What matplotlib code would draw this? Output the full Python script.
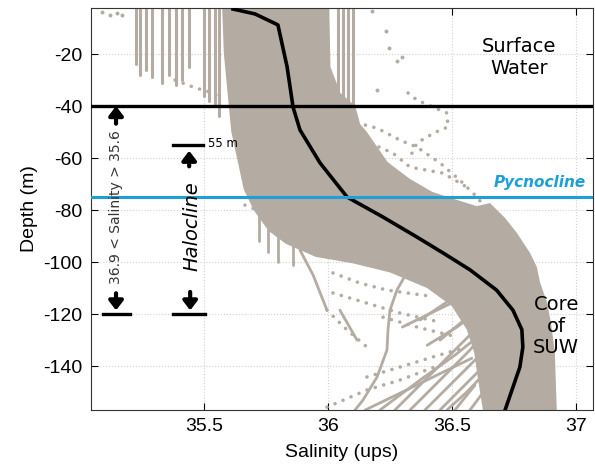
import matplotlib
matplotlib.use("Agg")
import matplotlib.pyplot as plt

plt.rcParams["axes.unicode_minus"] = False

# ---------------- DATA ---------------- #

# dense cloud of profiles: left edge (top -> bottom) and right edge (bottom -> top)
cloud_left_sal = [35.573, 35.580, 35.600, 35.610, 35.633, 35.660, 35.700, 35.760, 35.830,
                  35.950, 36.100, 36.250, 36.400, 36.500, 36.560, 36.590, 36.605, 36.625]
cloud_left_dep = [-2.3, -20, -40, -50, -60, -72, -80, -88, -93,
                  -98, -100.5, -104, -110, -117, -126, -135, -145, -157]
cloud_right_sal = [36.923, 36.919, 36.915, 36.899, 36.883, 36.855, 36.843, 36.815, 36.762,
                   36.714, 36.653, 36.600, 36.500, 36.420, 36.330, 36.240, 36.157, 36.130,
                   36.110, 36.050, 36.010, 36.005]
cloud_right_dep = [-157, -146, -134.6, -123, -115.4, -107.7, -102, -96.5, -88.8,
                   -83, -77.3, -78.5, -75.5, -73, -68, -61.5, -50, -47,
                   -40, -35, -25, -2.3]

# mean profile
mean_sal = [35.617, 35.706, 35.798, 35.835, 35.859, 35.887, 35.968, 36.077, 36.222,
            36.359, 36.464, 36.573, 36.680, 36.746, 36.782, 36.786, 36.774, 36.714]
mean_dep = [-2.7, -4.6, -8.8, -24.9, -40.4, -49.2, -61.9, -75.0, -82.7,
            -90.4, -96.5, -103.0, -110.8, -118.5, -126.0, -132.7, -140.4, -157.0]

# short vertical profiles (salinity, bottom depth), all start at the surface
short_sal = [35.225, 35.240, 35.265, 35.290, 35.330, 35.360, 35.385, 35.410, 35.440,
             35.500, 35.520, 35.545, 35.560, 36.040, 36.060, 36.080, 36.100]
short_bot = [-24, -28, -26, -29, -31, -28, -32, -30, -25,
             -36, -38, -40, -44, -40, -42, -44, -45]

# solid stray profiles
solid_lines = {
    "p1": ([36.351, 36.331, 36.278, 36.250, 36.242, 36.238, 36.198, 36.141, 36.109],
           [-95.4, -101.9, -110.8, -118.5, -126.2, -133.8, -144.2, -153.1, -156.9]),
    "p2": ([35.887, 35.940, 35.996], [-95.4, -105.0, -118.5]),
    "p3": ([36.048, 36.117], [-118.5, -130.0]),
    "h1": ([35.720, 35.720], [-78, -92]),
    "h2": ([35.760, 35.760], [-85, -96]),
    "h3": ([35.800, 35.800], [-90, -100]),
    "h4": ([35.860, 35.860], [-93, -101]),
    "s1": ([36.270, 36.411, 36.532, 36.653], [-156.9, -143.5, -131.9, -120.4]),
    "s2": ([36.331, 36.452, 36.573, 36.673], [-156.9, -145.4, -133.8, -122.3]),
    "s3": ([36.391, 36.492, 36.613, 36.694], [-156.9, -147.3, -135.8, -126.2]),
    "s4": ([36.452, 36.532, 36.633], [-156.9, -149.2, -139.6]),
    "s5": ([36.512, 36.593], [-156.9, -147.3]),
    "s6": ([36.210, 36.371, 36.512, 36.613], [-156.9, -145.4, -135.8, -128.1]),
    "s8": ([36.573, 36.633], [-156.9, -149.2]),
    "s9": ([36.371, 36.492, 36.593], [-122.3, -114.6, -108.8]),
    "s10": ([36.452, 36.573, 36.653], [-130.0, -120.4, -114.6]),
    "s11": ([36.150, 36.300, 36.450, 36.580], [-156.9, -150.0, -143.0, -137.0]),
    "s13": ([36.480, 36.560, 36.630], [-156.9, -150.0, -143.0]),
    "s14": ([36.300, 36.450, 36.580, 36.660], [-125.0, -118.0, -112.0, -108.0]),
    "s15": ([36.400, 36.520, 36.620], [-132.0, -125.0, -118.0]),
}

# dotted stray profiles
dotted_lines = {
    "tl": ([35.383, 35.464, 35.524, 35.573], [-30.0, -33.0, -34.6, -37.0]),
    "mid": ([35.665, 35.734, 35.794, 35.847], [-78.1, -80.8, -84.5, -87.7]),
    "d1": ([36.323, 36.359, 36.423, 36.480, 36.484, 36.452, 36.399, 36.359, 36.331],
           [-35.0, -37.7, -40.4, -42.7, -48.1, -49.2, -51.9, -54.2, -59.6]),
    "d2": ([36.117, 36.198, 36.290, 36.359, 36.452, 36.532, 36.601, 36.641],
           [-46.5, -48.5, -53.1, -55.8, -61.9, -68.5, -75.0, -80.0]),
    "d3": ([36.141, 36.262, 36.331, 36.464, 36.560], [-53.1, -58.1, -63.5, -65.8, -71.2]),
    "q2": ([35.996, 36.069, 36.157], [-118.5, -125.4, -132.7]),
    "q3": ([36.020, 36.129, 36.238, 36.319, 36.411], [-104.2, -108.1, -110.8, -111.9, -113.1]),
    "q4": ([36.020, 36.157, 36.290, 36.452], [-111.9, -115.8, -119.6, -123.1]),
    "q5": ([36.222, 36.359, 36.520], [-121.2, -125.0, -128.8]),
    "q6": ([36.157, 36.290, 36.423, 36.560], [-144.2, -140.4, -136.5, -132.7]),
    "q7": ([35.996, 36.157, 36.290, 36.452], [-155.8, -149.2, -145.4, -139.6]),
}

# isolated points
dots_sal = [35.09, 35.12, 35.15, 35.17, 36.177, 36.234, 36.246, 36.278, 36.298, 36.198]
dots_dep = [-4.0, -4.8, -4.2, -5.0, -3.5, -11.2, -17.7, -22.7, -21.2, -33.8]

surface_depth = -40
pycnocline_depth = -75

# ---------------- PLOT ---------------- #

grey = "#b4aca2"
blue = "#1e9fd5"

fig = plt.figure(figsize=(5.95, 4.75), dpi=100)
ax = fig.add_axes([91 / 595, 65 / 475, 502 / 595, 402 / 475])

ax.grid(True, ls=":", color="#d0d0d0", lw=0.8)
ax.set_axisbelow(True)

ax.fill(cloud_left_sal + cloud_right_sal, cloud_left_dep + cloud_right_dep,
        color=grey, lw=0, zorder=2)

for s, b in zip(short_sal, short_bot):
    ax.plot([s, s], [-2.3, b], color=grey, lw=2.2, solid_capstyle="round", zorder=2)

for name, (xs, ys) in solid_lines.items():
    ax.plot(xs, ys, color=grey, lw=2.0, solid_capstyle="round", zorder=2)

for name, (xs, ys) in dotted_lines.items():
    ax.plot(xs, ys, color=grey, lw=2.6, ls=(0, (0.01, 2.4)),
            dash_capstyle="round", zorder=2)

ax.scatter(dots_sal, dots_dep, s=8, color=grey, lw=0, zorder=2)

ax.plot(mean_sal, mean_dep, color="black", lw=2.6, zorder=4)

ax.axhline(surface_depth, color="black", lw=2.4, zorder=5)
ax.axhline(pycnocline_depth, color=blue, lw=2.2, zorder=5)

# labels in the plot
ax.text(36.77, -21.5, "Surface\nWater", ha="center", va="center", fontsize=14,
        family="DejaVu Sans", zorder=6)
ax.text(37.04, -69.6, "Pycnocline", ha="right", va="center", fontsize=11,
        color=blue, fontweight="bold", fontstyle="italic", family="DejaVu Sans", zorder=6)
ax.text(36.92, -124.6, "Core\nof\nSUW", ha="center", va="center", fontsize=14,
        family="DejaVu Sans", linespacing=1.15, zorder=6)

# salinity range markers
arrow_props = dict(arrowstyle="-|>,head_width=0.42,head_length=0.55",
                   lw=3, color="black", shrinkA=0, shrinkB=0)
ax.plot([35.093, 35.202], [-120, -120], color="black", lw=2.4, zorder=5)
ax.annotate("", xy=(35.145, -40), xytext=(35.145, -46.8), arrowprops=arrow_props, zorder=6)
ax.annotate("", xy=(35.145, -118.6), xytext=(35.145, -112.0), arrowprops=arrow_props, zorder=6)
ax.text(35.145, -79, "36.9 < Salinity > 35.6", rotation=90, ha="center", va="center",
        fontsize=10, color="#333333", family="DejaVu Sans", zorder=6)

# halocline markers
ax.plot([35.375, 35.496], [-55, -55], color="black", lw=2.4, zorder=5)
ax.plot([35.375, 35.504], [-120, -120], color="black", lw=2.4, zorder=5)
ax.annotate("", xy=(35.44, -57.2), xytext=(35.44, -63.2), arrowprops=arrow_props, zorder=6)
ax.annotate("", xy=(35.444, -118.6), xytext=(35.444, -111.5), arrowprops=arrow_props, zorder=6)
ax.text(35.516, -54.6, "55 m", ha="left", va="center", fontsize=8.4,
        family="DejaVu Sans", zorder=6)
ax.text(35.452, -86.2, "Halocline", rotation=90, ha="center", va="center",
        fontsize=14, fontstyle="italic", family="DejaVu Sans", zorder=6)

# axes
ax.set_xlim(35.044, 37.069)
ax.set_ylim(-156.9, -2.3)
ax.set_xticks([35.5, 36, 36.5, 37])
ax.set_xticklabels(["35.5", "36", "36.5", "37"])
ax.set_yticks([-140, -120, -100, -80, -60, -40, -20])
ax.tick_params(direction="in", top=True, right=True, length=5, width=0.8,
               labelsize=14, pad=6)
for lab in ax.get_xticklabels() + ax.get_yticklabels():
    lab.set_family("Liberation Sans")
ax.set_xlabel("Salinity (ups)", fontsize=14, family="Liberation Sans", labelpad=6)
ax.set_ylabel("Depth (m)", fontsize=14, family="Liberation Sans", labelpad=4)
for sp in ax.spines.values():
    sp.set_linewidth(0.8)
    sp.set_color("#333333")

plt.savefig("out.png", dpi=100)
plt.close()
